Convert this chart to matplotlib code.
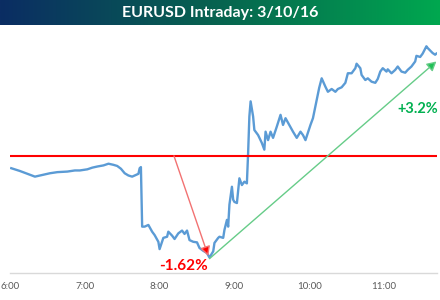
import numpy as np
import matplotlib.pyplot as plt
from matplotlib.colors import LinearSegmentedColormap

# EURUSD intraday 3/10/16, minutes after 6:00 and price
minutes = [1, 8, 14, 20, 26, 32, 38, 46, 52, 56, 62, 66, 70, 75, 79, 83, 86, 89,
           92, 95, 98, 100, 103, 104, 105, 106, 108, 111, 114, 116, 119, 120, 123,
           126, 127, 130, 132, 135, 138, 140, 142, 144, 147, 150, 152, 155, 158,
           160, 163, 164, 167, 168, 171, 172, 174, 175, 176, 178, 179, 180, 182,
           184, 186, 188, 190, 191, 192, 193, 195, 196, 199, 202, 204, 205, 207,
           209, 211, 214, 217, 219, 221, 224, 227, 230, 233, 235, 237, 241, 243,
           246, 248, 250, 253, 255, 258, 261, 263, 266, 269, 271, 274, 277, 278,
           281, 282, 285, 287, 290, 293, 295, 297, 299, 302, 303, 306, 309, 311,
           314, 317, 319, 322, 325, 326, 329, 331, 334, 335, 339, 341, 342]
price = [1.0978, 1.0973, 1.0968, 1.0963, 1.0966, 1.0969, 1.0971, 1.0972, 1.0974,
         1.0974, 1.0976, 1.0979, 1.0981, 1.0983, 1.0986, 1.0984, 1.0982, 1.0977,
         1.0969, 1.0965, 1.0963, 1.0965, 1.0968, 1.0978, 1.0980, 1.0874, 1.0874,
         1.0877, 1.0865, 1.0859, 1.0847, 1.0834, 1.0854, 1.0856, 1.0865, 1.0858,
         1.0852, 1.0862, 1.0867, 1.0861, 1.0867, 1.0850, 1.0847, 1.0846, 1.0836,
         1.0831, 1.0827, 1.0819, 1.0830, 1.0845, 1.0854, 1.0856, 1.0854, 1.0868,
         1.0886, 1.0874, 1.0913, 1.0945, 1.0922, 1.0918, 1.0916, 1.0960, 1.0948,
         1.0954, 1.0951, 1.1005, 1.1070, 1.1097, 1.1070, 1.1046, 1.1037, 1.1023,
         1.1011, 1.1043, 1.1028, 1.1043, 1.1032, 1.1052, 1.1073, 1.1055, 1.1067,
         1.1055, 1.1043, 1.1032, 1.1043, 1.1037, 1.1028, 1.1055, 1.1067, 1.1100,
         1.1121, 1.1138, 1.1123, 1.1114, 1.1119, 1.1114, 1.1119, 1.1122, 1.1130,
         1.1147, 1.1147, 1.1156, 1.1164, 1.1156, 1.1144, 1.1135, 1.1138, 1.1132,
         1.1130, 1.1137, 1.1150, 1.1156, 1.1150, 1.1154, 1.1147, 1.1153, 1.1159,
         1.1150, 1.1148, 1.1153, 1.1159, 1.1168, 1.1178, 1.1176, 1.1182, 1.1195,
         1.1192, 1.1183, 1.1180, 1.1182]

ref_level = 1.1000
drop_start, drop_end, drop_low = 131.5, 159, 1.0822
rise_start, rise_end, rise_low, rise_high = 160, 342, 1.0817, 1.1168

tick_pos = [0, 60, 120, 180, 240, 300]
tick_labels = ['6:00', '7:00', '8:00', '9:00', '10:00', '11:00']

plt.rcParams['font.family'] = ['Lato', 'DejaVu Sans']

fig = plt.figure(figsize=(4.4, 3.0), dpi=100)

# title bar with horizontal gradient
bar = fig.add_axes([0, 1 - 25 / 300, 1, 25 / 300])
cmap = LinearSegmentedColormap.from_list('bar', ['#0b2d63', '#07644f', '#00a84f'])
bar.imshow(np.linspace(0, 1, 256).reshape(1, -1), aspect='auto', cmap=cmap,
           extent=[0, 1, 0, 1])
bar.set_axis_off()
bar.text(0.5, 0.48, 'EURUSD Intraday: 3/10/16', color='white', fontsize=11.5,
         fontweight='bold', ha='center', va='center')

ax = fig.add_axes([10 / 440, 1 - 272.7 / 300, 427 / 440, (272.7 - 30) / 300])
ax.plot(minutes, price, color='#5b9bd5', lw=1.7, solid_joinstyle='round')
ax.axhline(ref_level, color='#ff0000', lw=1.5)

# drop arrow
ax.annotate('', xy=(drop_end, drop_low), xytext=(drop_start, ref_level),
            arrowprops=dict(arrowstyle='-|>,head_length=0.55,head_width=0.3',
                            lw=1.0, edgecolor='#f27272', facecolor='#ff0000',
                            shrinkA=0, shrinkB=0))
# rally arrow
ax.annotate('', xy=(rise_end, rise_high), xytext=(rise_start, rise_low),
            arrowprops=dict(arrowstyle='-|>,head_length=0.55,head_width=0.3',
                            lw=1.0, edgecolor='#66cc88', facecolor='#1fbf55',
                            shrinkA=0, shrinkB=0))

ax.text(139, 1.0804, '-1.62%', color='#ff0000', fontsize=11, fontweight='bold',
        ha='center', va='center')
ax.text(310.5, 1.1084, '+3.2%', color='#00b050', fontsize=10.5, fontweight='bold',
        ha='left', va='center', clip_on=False)

ax.set_xlim(0, 342.5)
ax.set_ylim(1.0792, 1.1224)
ax.set_xticks(tick_pos)
ax.set_xticklabels(tick_labels, color='#595959', fontsize=7)
ax.tick_params(axis='x', length=0, pad=7)
ax.set_yticks([])
for side in ['top', 'left', 'right']:
    ax.spines[side].set_visible(False)
ax.spines['bottom'].set_color('#d9d9d9')
ax.spines['bottom'].set_linewidth(1)

fig.savefig('out.png', dpi=100)
